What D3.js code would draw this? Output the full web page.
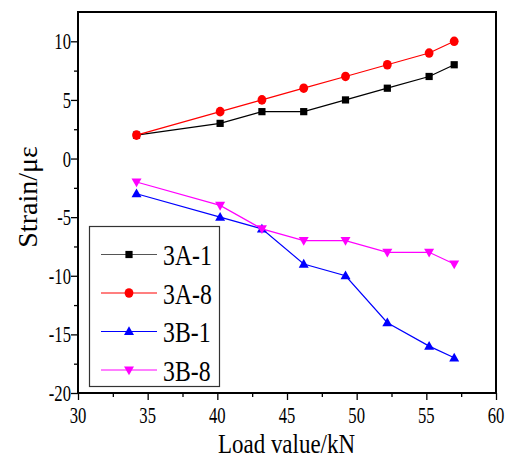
<!DOCTYPE html>
<html>
<head>
<meta charset="utf-8">
<script src="https://cdn.jsdelivr.net/npm/d3@7"></script>
<style>
  html, body { margin: 0; padding: 0; background: #fff; }
  svg { display: block; }
</style>
</head>
<body>
<svg id="chart" width="509" height="459"></svg>
<script>
// Load steps (kN) and measured strain for each gauge
const loads = [34.2, 40.2, 43.2, 46.2, 49.2, 52.2, 55.2, 57.0];
const s3A1 = [2, 3, 4, 4, 5, 6, 7, 8];
const s3A8 = [2, 4, 5, 6, 7, 8, 9, 10];
const s3B1 = [-3, -5, -6, -9, -10, -14, -16, -17];
const s3B8 = [-2, -4, -6, -7, -7, -8, -8, -9];
const seriesNames = ["3A-1", "3A-8", "3B-1", "3B-8"];
const xTicks = [30, 35, 40, 45, 50, 55, 60];
const yTicks = [-20, -15, -10, -5, 0, 5, 10];

const series = [
  { name: seriesNames[0], values: s3A1, color: "#000000", shape: "square" },
  { name: seriesNames[1], values: s3A8, color: "#ff0000", shape: "circle" },
  { name: seriesNames[2], values: s3B1, color: "#0000ff", shape: "up" },
  { name: seriesNames[3], values: s3B8, color: "#ff00ff", shape: "down" }
];

const FONT = "Liberation Serif, Times New Roman, Times, DejaVu Serif, serif";
const svg = d3.select("#chart");
const L = 78, R = 496, T = 12, B = 393;
const x = d3.scaleLinear().domain([30, 60]).range([L, R]);
const y = d3.scaleLinear().domain([-20, 12.5]).range([B, T]);

// Text drawn with a horizontal squeeze factor sx
function label(parent, tx, ty, sx, size, anchor, str, rot) {
  return parent.append("text")
    .attr("transform", `translate(${tx},${ty})` + (rot ? ` rotate(${rot})` : "") + ` scale(${sx},1)`)
    .attr("text-anchor", anchor)
    .style("font-family", FONT)
    .attr("font-size", size)
    .attr("fill", "#000")
    .text(str);
}

function marker(g, shape, cx, cy, color) {
  if (shape === "square") {
    g.append("rect").attr("x", cx - 3.6).attr("y", cy - 3.6)
      .attr("width", 7.2).attr("height", 7.2).attr("fill", color);
  } else if (shape === "circle") {
    g.append("ellipse").attr("cx", cx).attr("cy", cy)
      .attr("rx", 4.4).attr("ry", 4.8).attr("fill", color);
  } else if (shape === "up") {
    g.append("path").attr("d", `M${cx},${cy - 5.2}L${cx + 5},${cy + 3.6}L${cx - 5},${cy + 3.6}Z`)
      .attr("fill", color);
  } else {
    g.append("path").attr("d", `M${cx},${cy + 5.2}L${cx + 5},${cy - 3.6}L${cx - 5},${cy - 3.6}Z`)
      .attr("fill", color);
  }
}

// Axes with major and minor ticks
const xAxis = d3.axisBottom(x).tickValues(xTicks).tickSize(7).tickFormat("");
const xMinor = d3.axisBottom(x).tickValues(d3.range(32.5, 60, 5)).tickSize(4).tickFormat("");
const yAxis = d3.axisLeft(y).tickValues(yTicks).tickSize(7).tickFormat("");
const yMinor = d3.axisLeft(y).tickValues(d3.range(-17.5, 12, 5)).tickSize(4).tickFormat("");

[xAxis, xMinor].forEach(a => {
  const g = svg.append("g").attr("transform", `translate(0,${B})`).call(a);
  g.select(".domain").remove();
  g.selectAll("line").attr("stroke", "#000").attr("stroke-width", 1.3);
});
[yAxis, yMinor].forEach(a => {
  const g = svg.append("g").attr("transform", `translate(${L},0)`).call(a);
  g.select(".domain").remove();
  g.selectAll("line").attr("stroke", "#000").attr("stroke-width", 1.3);
});

// Frame
svg.append("rect").attr("x", L).attr("y", T).attr("width", R - L).attr("height", B - T)
  .attr("fill", "none").attr("stroke", "#000").attr("stroke-width", 2);

// Tick labels
xTicks.forEach(v => label(svg, x(v), 423, 0.74, 22.5, "middle", v));
yTicks.forEach(v => label(svg, 71, y(v) + 8, 0.74, 22.5, "end", v));

// Axis titles
label(svg, (213 + 360) / 2, 453, 0.82, 28, "middle", "Load value/kN");
label(svg, 37, 197, 1, 28, "middle", "Strain/με", -90);

// Series lines and markers
const line = d3.line().x((d, i) => x(loads[i])).y(d => y(d));
series.forEach(s => {
  svg.append("path").datum(s.values).attr("d", line)
    .attr("fill", "none").attr("stroke", s.color).attr("stroke-width", 1.2);
  const g = svg.append("g");
  s.values.forEach((v, i) => marker(g, s.shape, x(loads[i]), y(v), s.color));
});

// Legend
const lg = svg.append("g");
lg.append("rect").attr("x", 89.5).attr("y", 226.5).attr("width", 130).attr("height", 160)
  .attr("fill", "#fff").attr("stroke", "#333").attr("stroke-width", 1.2);
const rowY = [254.5, 293, 331.5, 370];
series.forEach((s, i) => {
  const yy = rowY[i];
  lg.append("line").attr("x1", 101).attr("x2", 157).attr("y1", yy).attr("y2", yy)
    .attr("stroke", s.color === "#000000" ? "#555" : s.color).attr("stroke-width", 1.2);
  marker(lg, s.shape, 129, yy, s.color);
  label(lg, 163, yy + 10.5, 0.82, 29, "start", s.name);
});
</script>
</body>
</html>
